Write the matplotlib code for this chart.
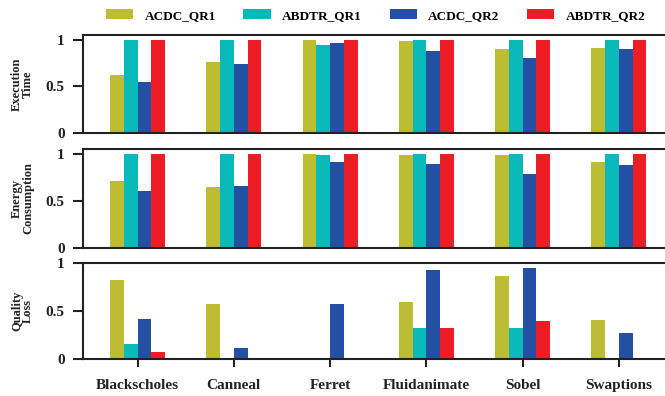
import matplotlib
matplotlib.use("Agg")
import matplotlib.pyplot as plt
import numpy as np

plt.rcParams["font.family"] = ["Liberation Serif", "DejaVu Serif"]
plt.rcParams["font.weight"] = "bold"

benchmarks = ["Blackscholes", "Canneal", "Ferret", "Fluidanimate", "Sobel", "Swaptions"]
series = ["ACDC_QR1", "ABDTR_QR1", "ACDC_QR2", "ABDTR_QR2"]
colors = ["#BDBD33", "#0ABAB9", "#2450A4", "#EE1C25"]

exec_acdc_qr1 = [0.625, 0.757, 1.0, 0.99, 0.896, 0.914]
exec_abdtr_qr1 = [1.0, 1.0, 0.946, 1.0, 1.0, 1.0]
exec_acdc_qr2 = [0.543, 0.743, 0.96, 0.875, 0.807, 0.904]
exec_abdtr_qr2 = [1.0, 1.0, 1.0, 1.0, 1.0, 1.0]

energy_acdc_qr1 = [0.71, 0.645, 1.0, 0.989, 0.989, 0.913]
energy_abdtr_qr1 = [1.0, 1.0, 0.993, 1.0, 1.0, 1.0]
energy_acdc_qr2 = [0.609, 0.656, 0.913, 0.891, 0.786, 0.884]
energy_abdtr_qr2 = [1.0, 1.0, 1.0, 1.0, 1.0, 1.0]

qloss_acdc_qr1 = [0.818, 0.570, 0.0, 0.591, 0.859, 0.405]
qloss_abdtr_qr1 = [0.158, 0.0, 0.0, 0.323, 0.323, 0.0]
qloss_acdc_qr2 = [0.419, 0.117, 0.570, 0.921, 0.942, 0.271]
qloss_abdtr_qr2 = [0.076, 0.0, 0.0, 0.323, 0.395, 0.0]

panels = [
    ("Execution\nTime", [exec_acdc_qr1, exec_abdtr_qr1, exec_acdc_qr2, exec_abdtr_qr2], 1.05),
    ("Energy\nConsumption", [energy_acdc_qr1, energy_abdtr_qr1, energy_acdc_qr2, energy_abdtr_qr2], 1.05),
    ("Quality\nLoss", [qloss_acdc_qr1, qloss_abdtr_qr1, qloss_acdc_qr2, qloss_abdtr_qr2], 1.0),
]

fig = plt.figure(figsize=(6.65, 3.96), dpi=100)
left = 82.7 / 665
right = 1.003
boxes = [(35, 132.7), (149.3, 247.7), (262.5, 359.3)]

x = np.arange(len(benchmarks))
width = 0.143
offsets = [-1.5, -0.5, 0.5, 1.5]

for i, ((label, vals, ytop), (top, bot)) in enumerate(zip(panels, boxes)):
    ax = fig.add_axes([left, 1 - bot / 396, right - left, (bot - top) / 396])
    for k in range(4):
        ax.bar(x + offsets[k] * width, vals[k], width, color=colors[k],
               label=series[k], linewidth=0)
    ax.set_xlim(-0.57, 5.5)
    ax.set_ylim(0, ytop)
    ax.set_yticks([0, 0.5, 1])
    ax.set_yticklabels(["0", "0.5", "1"])
    for side in ["left", "top", "bottom"]:
        ax.spines[side].set_linewidth(1.5)
        ax.spines[side].set_color("#222222")
    ax.spines["right"].set_visible(False)
    ax.tick_params(axis="y", direction="out", length=7, width=1.5,
                   pad=6, labelsize=11, colors="#222222")
    ax.set_ylabel(label, fontsize=9, fontweight="bold", linespacing=0.9,
                  color="#222222")
    ax.yaxis.set_label_coords(-0.083, 0.5)
    if i < 2:
        ax.tick_params(axis="x", bottom=False, labelbottom=False)
    else:
        ax.set_xticks(x)
        ax.set_xticklabels(benchmarks)
        ax.tick_params(axis="x", direction="out", length=6, width=1.5,
                       pad=8, labelsize=11, colors="#222222")
    if i == 0:
        handles, labels = ax.get_legend_handles_labels()

fig.legend(handles, labels, loc="center", bbox_to_anchor=(0.565, 1 - 15.5 / 396),
           ncol=4, frameon=False, fontsize=9.5, handlelength=2.05,
           handleheight=0.72, handletextpad=0.88, columnspacing=2.1,
           borderpad=0, borderaxespad=0)

fig.savefig("out.png", dpi=100)
